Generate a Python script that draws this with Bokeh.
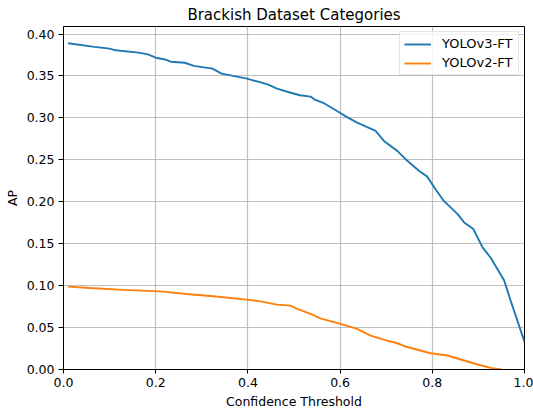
from bokeh.plotting import figure
from bokeh.models import FixedTicker, PrintfTickFormatter, Range1d, Legend, LegendItem
from bokeh.embed import file_html
from bokeh.resources import INLINE

# Data
v3_x = [0.01, 0.063, 0.10, 0.113, 0.163, 0.183, 0.20, 0.218, 0.233, 0.263, 0.283, 0.323,
        0.343, 0.398, 0.443, 0.463, 0.493, 0.513, 0.536, 0.546, 0.565, 0.597, 0.615, 0.637,
        0.677, 0.695, 0.724, 0.742, 0.771, 0.789, 0.807, 0.825, 0.855, 0.869, 0.889, 0.909,
        0.927, 0.956, 0.97, 1.0]
v3_y = [0.389, 0.385, 0.3826, 0.3806, 0.3778, 0.3758, 0.3718, 0.370, 0.367, 0.3658, 0.362,
        0.3587, 0.3528, 0.3468, 0.340, 0.335, 0.330, 0.327, 0.3254, 0.3214, 0.3175, 0.307,
        0.301, 0.2944, 0.2845, 0.2726, 0.2607, 0.2508, 0.2369, 0.230, 0.215, 0.201, 0.1853,
        0.1754, 0.1675, 0.1456, 0.133, 0.106, 0.082, 0.033]

v2_x = [0.01, 0.057, 0.13, 0.21, 0.267, 0.325, 0.398, 0.427, 0.463, 0.492, 0.507, 0.536,
        0.557, 0.601, 0.637, 0.666, 0.702, 0.724, 0.742, 0.796, 0.833, 0.862, 0.898, 0.927,
        0.95]
v2_y = [0.0988, 0.0972, 0.0949, 0.0932, 0.090, 0.0873, 0.0833, 0.0813, 0.0774, 0.0762,
        0.0722, 0.0663, 0.061, 0.0544, 0.0484, 0.0405, 0.0345, 0.0313, 0.0274, 0.0194,
        0.0167, 0.0119, 0.006, 0.002, 0.0]

x_ticks = [0.0, 0.2, 0.4, 0.6, 0.8, 1.0]
y_ticks = [0.0, 0.05, 0.10, 0.15, 0.20, 0.25, 0.30, 0.35, 0.40]
title_text = "Brackish Dataset Categories"

FONT = "DejaVu Sans"
FS = "12.5px"

p = figure(width=533, height=411, output_backend="svg", toolbar_location=None,
           x_range=Range1d(0, 1.0), y_range=Range1d(0, 0.409),
           min_border_left=63, min_border_right=9, min_border_top=26, min_border_bottom=42)

p.title.text = title_text
p.title.align = "center"
p.title.text_font = FONT
p.title.text_font_size = "15px"
p.title.text_font_style = "normal"
p.title.text_color = "black"
p.title.standoff = 5

p.outline_line_color = "black"
p.outline_line_width = 1
p.background_fill_color = "white"
p.border_fill_color = "white"

for ax in (p.xaxis[0], p.yaxis[0]):
    ax.axis_line_color = "black"
    ax.major_tick_line_color = "black"
    ax.major_tick_in = 0
    ax.minor_tick_out = 0
    ax.minor_tick_in = 0
    ax.major_label_text_font = FONT
    ax.major_label_text_font_size = FS
    ax.major_label_text_color = "black"
    ax.axis_label_text_font = FONT
    ax.axis_label_text_font_size = FS
    ax.axis_label_text_font_style = "normal"
    ax.axis_label_text_color = "black"

p.xaxis.major_tick_out = 4
p.yaxis.major_tick_out = 5
p.xaxis.major_label_standoff = 4
p.yaxis.major_label_standoff = 4
p.xaxis.ticker = FixedTicker(ticks=x_ticks)
p.yaxis.ticker = FixedTicker(ticks=y_ticks)
p.xaxis.formatter = PrintfTickFormatter(format="%.1f")
p.yaxis.formatter = PrintfTickFormatter(format="%.2f")
p.xaxis.axis_label = "Confidence Threshold"
p.yaxis.axis_label = "AP"
p.xaxis.axis_label_standoff = 4
p.yaxis.axis_label_standoff = 4

p.xgrid.ticker = FixedTicker(ticks=x_ticks)
p.ygrid.ticker = FixedTicker(ticks=y_ticks)
p.grid.grid_line_color = "#b0b0b0"
p.grid.grid_line_width = 1.2
p.grid.grid_line_alpha = 0.8

r1 = p.line(v3_x, v3_y, line_color="#1f77b4", line_width=1.9)
r2 = p.line(v2_x, v2_y, line_color="#ff7f0e", line_width=1.9)

legend = Legend(items=[LegendItem(label="YOLOv3-FT", renderers=[r1]),
                       LegendItem(label="YOLOv2-FT", renderers=[r2])],
                location="top_right")
legend.margin = 5
legend.padding = 4
legend.spacing = 4
legend.glyph_width = 27
legend.glyph_height = 12
legend.label_height = 12
legend.label_width = 72
legend.label_standoff = 11
legend.label_text_font = FONT
legend.label_text_font_size = "13px"
legend.label_text_color = "black"
legend.border_line_color = "#cccccc"
legend.border_line_width = 1
legend.background_fill_color = "white"
legend.background_fill_alpha = 0.8
p.add_layout(legend)

open("out.html", "w").write(file_html(p, INLINE))
